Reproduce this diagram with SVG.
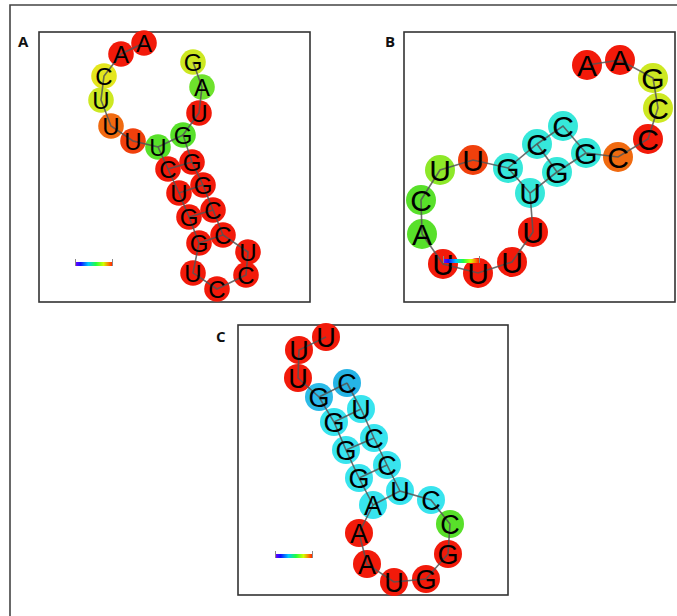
<svg xmlns="http://www.w3.org/2000/svg" width="677" height="616" viewBox="0 0 677 616">
<defs>
<linearGradient id="rb" x1="0" y1="0" x2="1" y2="0">
<stop offset="0" stop-color="#7a00ff"/><stop offset="0.15" stop-color="#1010ff"/><stop offset="0.35" stop-color="#00c8ff"/><stop offset="0.55" stop-color="#20ff40"/><stop offset="0.75" stop-color="#d0ff00"/><stop offset="0.88" stop-color="#ff8000"/><stop offset="1" stop-color="#ff1000"/>
</linearGradient>
</defs>
<style>
.frame{fill:none;stroke:#444;stroke-width:1.6}
.box{fill:#fff;stroke:#333;stroke-width:1.6}
.lbl{font-family:"Open Sans","Liberation Sans",sans-serif;font-weight:bold;font-size:15px;fill:#111}
.ln{stroke:#555;stroke-width:1.6;fill:none;stroke-opacity:0.85}
.nt{font-family:"Liberation Sans",Arial,sans-serif;fill:#000;text-anchor:middle}
.a text{font-size:24px}
.b text{font-size:30px}
.c text{font-size:27px}
.tick{stroke:#888;stroke-width:1}
.r{fill:#f21a0a}.o{fill:#f06a10}.ro{fill:#f0400c}.y{fill:#e4e61e}.yg{fill:#cde822}.lg{fill:#8de828}.g{fill:#58e02a}.cy{fill:#36e8da}.cc{fill:#38e4ee}.bl{fill:#2cbbe8}
</style>
<rect width="677" height="616" fill="#fff"/>
<path class="frame" d="M10,616 V5 H677"/>
<rect class="box" x="39" y="32" width="271" height="270"/>
<rect class="box" x="404" y="32" width="271" height="270"/>
<rect class="box" x="238" y="325" width="270" height="270"/>
<text class="lbl" x="18" y="47">A</text>
<text class="lbl" x="385" y="47">B</text>
<text class="lbl" x="216" y="342">C</text>

<g id="nodesA" class="a">
<g id="a1"><circle class="r" cx="144" cy="43" r="12.8"/></g>
<g id="a2"><circle class="r" cx="121" cy="54" r="12.8"/></g>
<g id="a3"><circle class="y" cx="104" cy="76" r="12.8"/></g>
<g id="a4"><circle class="yg" cx="101" cy="100" r="12.8"/></g>
<g id="a5"><circle class="o" cx="111" cy="126" r="12.8"/></g>
<g id="a6"><circle class="ro" cx="133" cy="141" r="12.8"/></g>
<g id="a7"><circle class="g" cx="158" cy="147" r="12.8"/></g>
<g id="a8"><circle class="r" cx="168" cy="169" r="12.8"/></g>
<g id="a9"><circle class="r" cx="179" cy="193" r="12.8"/></g>
<g id="a10"><circle class="r" cx="189" cy="217" r="12.8"/></g>
<g id="a11"><circle class="r" cx="199" cy="243" r="12.8"/></g>
<g id="a12"><circle class="r" cx="193" cy="273" r="12.8"/></g>
<g id="a13"><circle class="r" cx="217" cy="289" r="12.8"/></g>
<g id="a14"><circle class="r" cx="246" cy="275" r="12.8"/></g>
<g id="a15"><circle class="r" cx="248" cy="252" r="12.8"/></g>
<g id="a16"><circle class="r" cx="223" cy="235" r="12.8"/></g>
<g id="a17"><circle class="r" cx="213" cy="210" r="12.8"/></g>
<g id="a18"><circle class="r" cx="203" cy="185" r="12.8"/></g>
<g id="a19"><circle class="r" cx="192" cy="162" r="12.8"/></g>
<g id="a20"><circle class="g" cx="183" cy="135" r="12.8"/></g>
<g id="a21"><circle class="r" cx="199" cy="113" r="12.8"/></g>
<g id="a22"><circle class="g" cx="202" cy="87" r="12.8" style="fill:#6ee22c"/></g>
<g id="a23"><circle class="yg" cx="193" cy="62" r="12.8"/></g>
</g>

<g id="nodesB" class="b">
<g id="b1"><circle class="r" cx="587" cy="65" r="15"/></g>
<g id="b2"><circle class="r" cx="620" cy="60" r="15"/></g>
<g id="b3"><circle class="yg" cx="653" cy="78" r="15"/></g>
<g id="b4"><circle class="yg" cx="658" cy="108" r="15"/></g>
<g id="b5"><circle class="r" cx="648" cy="139" r="15"/></g>
<g id="b6"><circle class="o" cx="618" cy="157" r="15"/></g>
<g id="b7"><circle class="cy" cx="586" cy="153" r="15"/></g>
<g id="b8"><circle class="cy" cx="563" cy="126" r="15"/></g>
<g id="b9"><circle class="cy" cx="537" cy="144" r="15"/></g>
<g id="b10"><circle class="cy" cx="508" cy="168" r="15"/></g>
<g id="b11"><circle class="ro" cx="473" cy="160" r="15"/></g>
<g id="b12"><circle class="lg" cx="440" cy="170" r="15"/></g>
<g id="b13"><circle class="g" cx="421" cy="200" r="15"/></g>
<g id="b14"><circle class="g" cx="422" cy="234" r="15"/></g>
<g id="b15"><circle class="r" cx="443" cy="264" r="15"/></g>
<g id="b16"><circle class="r" cx="478" cy="273" r="15"/></g>
<g id="b17"><circle class="r" cx="512" cy="262" r="15"/></g>
<g id="b18"><circle class="r" cx="533" cy="232" r="15"/></g>
<g id="b19"><circle class="cy" cx="530" cy="193" r="15"/></g>
<g id="b20"><circle class="cy" cx="557" cy="172" r="15"/></g>
</g>

<g id="nodesC" class="c">
<g id="c1"><circle class="r" cx="326" cy="337" r="14"/></g>
<g id="c2"><circle class="r" cx="299" cy="350" r="14"/></g>
<g id="c3"><circle class="r" cx="298" cy="378" r="14"/></g>
<g id="c4"><circle class="bl" cx="319" cy="397" r="14"/></g>
<g id="c5"><circle class="cc" cx="334" cy="422" r="14"/></g>
<g id="c6"><circle class="cc" cx="346" cy="450" r="14"/></g>
<g id="c7"><circle class="cc" cx="359" cy="478" r="14"/></g>
<g id="c8"><circle class="cc" cx="373" cy="505" r="14"/></g>
<g id="c9"><circle class="r" cx="359" cy="533" r="14"/></g>
<g id="c10"><circle class="r" cx="367" cy="564" r="14"/></g>
<g id="c11"><circle class="r" cx="394" cy="582" r="14"/></g>
<g id="c12"><circle class="r" cx="426" cy="579" r="14"/></g>
<g id="c13"><circle class="r" cx="448" cy="554" r="14"/></g>
<g id="c14"><circle class="g" cx="450" cy="524" r="14"/></g>
<g id="c15"><circle class="cc" cx="431" cy="500" r="14"/></g>
<g id="c16"><circle class="cc" cx="400" cy="491" r="14"/></g>
<g id="c17"><circle class="cc" cx="387" cy="465" r="14"/></g>
<g id="c18"><circle class="cc" cx="374" cy="438" r="14"/></g>
<g id="c19"><circle class="cc" cx="361" cy="409" r="14"/></g>
<g id="c20"><circle class="bl" cx="347" cy="383" r="14" style="fill:#26b4e6"/></g>
</g>

<g id="connectors">
<polyline class="ln" points="144,43 121,54 104,76 101,100 111,126 133,141 158,147 168,169 179,193 189,217 199,243 193,273 217,289 246,275 248,252 223,235 213,210 203,185 192,162 183,135 199,113 202,87 193,62"/>
<path class="ln" d="M158,147 L183,135 M168,169 L192,162 M179,193 L203,185 M189,217 L213,210 M199,243 L223,235"/>
<polyline class="ln" points="587,65 620,60 653,78 658,108 648,139 618,157 586,153 563,126 537,144 508,168 473,160 440,170 421,200 422,234 443,264 478,273 512,262 533,232 530,193 557,172 586,153"/>
<path class="ln" d="M508,168 L530,193 M537,144 L557,172"/>
<polyline class="ln" points="326,337 299,350 298,378 319,397 334,422 346,450 359,478 373,505 359,533 367,564 394,582 426,579 448,554 450,524 431,500 400,491 387,465 374,438 361,409 347,383"/>
<path class="ln" d="M319,397 L347,383 M334,422 L361,409 M346,450 L374,438 M359,478 L387,465 M373,505 L400,491"/>
</g>

<g id="labelsA" class="a" transform="translate(0,0.6)">
<text class="nt" x="144" y="51">A</text>
<text class="nt" x="121" y="62">A</text>
<text class="nt" x="104" y="84">C</text>
<text class="nt" x="101" y="108">U</text>
<text class="nt" x="111" y="134">U</text>
<text class="nt" x="133" y="149">U</text>
<text class="nt" x="158" y="155">U</text>
<text class="nt" x="168" y="177">C</text>
<text class="nt" x="179" y="201">U</text>
<text class="nt" x="189" y="225">G</text>
<text class="nt" x="199" y="251">G</text>
<text class="nt" x="193" y="281">U</text>
<text class="nt" x="217" y="297">C</text>
<text class="nt" x="246" y="283">C</text>
<text class="nt" x="248" y="260">U</text>
<text class="nt" x="223" y="243">C</text>
<text class="nt" x="213" y="218">C</text>
<text class="nt" x="203" y="193">G</text>
<text class="nt" x="192" y="170">G</text>
<text class="nt" x="183" y="143">G</text>
<text class="nt" x="199" y="121">U</text>
<text class="nt" x="202" y="95">A</text>
<text class="nt" x="193" y="70">G</text>
</g>
<g id="labelsB" class="b" transform="translate(0,0.8)">
<text class="nt" x="587" y="75">A</text>
<text class="nt" x="620" y="70">A</text>
<text class="nt" x="653" y="88">G</text>
<text class="nt" x="658" y="118">C</text>
<text class="nt" x="648" y="149">C</text>
<text class="nt" x="618" y="167">C</text>
<text class="nt" x="586" y="163">G</text>
<text class="nt" x="563" y="136">C</text>
<text class="nt" x="537" y="154">C</text>
<text class="nt" x="508" y="178">G</text>
<text class="nt" x="473" y="170">U</text>
<text class="nt" x="440" y="180">U</text>
<text class="nt" x="421" y="210">C</text>
<text class="nt" x="422" y="244">A</text>
<text class="nt" x="443" y="274">U</text>
<text class="nt" x="478" y="283">U</text>
<text class="nt" x="512" y="272">U</text>
<text class="nt" x="533" y="242">U</text>
<text class="nt" x="530" y="203">U</text>
<text class="nt" x="557" y="182">G</text>
</g>
<g id="labelsC" class="c" transform="translate(0,0.7)">
<text class="nt" x="326" y="346">U</text>
<text class="nt" x="299" y="359">U</text>
<text class="nt" x="298" y="387">U</text>
<text class="nt" x="319" y="406">G</text>
<text class="nt" x="334" y="431">G</text>
<text class="nt" x="346" y="459">G</text>
<text class="nt" x="359" y="487">G</text>
<text class="nt" x="373" y="514">A</text>
<text class="nt" x="359" y="542">A</text>
<text class="nt" x="367" y="573">A</text>
<text class="nt" x="394" y="591">U</text>
<text class="nt" x="426" y="588">G</text>
<text class="nt" x="448" y="563">G</text>
<text class="nt" x="450" y="533">C</text>
<text class="nt" x="431" y="509">C</text>
<text class="nt" x="400" y="500">U</text>
<text class="nt" x="387" y="474">C</text>
<text class="nt" x="374" y="447">C</text>
<text class="nt" x="361" y="418">U</text>
<text class="nt" x="347" y="392">C</text>
</g>

<g id="colorbars">
<rect x="75" y="262" width="38" height="4" fill="url(#rb)"/>
<path class="tick" d="M75.5,259 V266 M112.5,259 V266"/>
<rect x="443" y="259" width="37" height="4" fill="url(#rb)"/>
<path class="tick" d="M443.5,256 V263 M479.5,256 V263"/>
<rect x="275" y="554" width="38" height="4" fill="url(#rb)"/>
<path class="tick" d="M275.5,551 V558 M312.5,551 V558"/>
</g>
</svg>
